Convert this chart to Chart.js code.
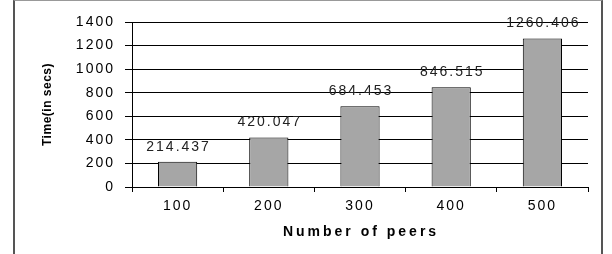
<!DOCTYPE html>
<html>
<head>
<meta charset="utf-8">
<script src="https://cdn.jsdelivr.net/npm/chart.js@4"></script>
<style>
  html, body { margin: 0; padding: 0; background: #fff; overflow: hidden; }
  #wrap { position: relative; width: 612px; height: 254px; }
  #frame { position: absolute; left: 13px; top: 0; width: 586px; height: 300px;
           border-left: 2px solid #555; border-right: 2px solid #555; border-top: 1px solid #999; }
  canvas { position: absolute; left: 0; top: 0; }
</style>
</head>
<body>
<div id="wrap">
  <div id="frame"></div>
  <canvas id="peerChart" width="612" height="254"></canvas>
</div>
<script>
// ── DATA ─────────────────────────────────────────────────────────────
const peers = ['100', '200', '300', '400', '500'];
const timeSecs = [214.437, 420.047, 684.453, 846.515, 1260.406];
const yTicks = [0, 200, 400, 600, 800, 1000, 1200, 1400];

const FONT = 'Liberation Sans, Arial, sans-serif';

// titles + value labels drawn with letter spacing like the old Excel output
const textPlugin = {
  id: 'textPlugin',
  beforeDraw(chart) {
    chart.ctx.letterSpacing = '2px';
  },
  afterDatasetsDraw(chart) {
    const ctx = chart.ctx;
    const bars = chart.getDatasetMeta(0).data;
    ctx.save();
    ctx.letterSpacing = '2px';
    ctx.font = '14px ' + FONT;
    ctx.fillStyle = '#222';
    ctx.textAlign = 'center';
    ctx.textBaseline = 'middle';
    bars.forEach((b, i) => ctx.fillText(timeSecs[i].toFixed(3), b.x + 1, b.y - 15));
    ctx.restore();
  },
  afterDraw(chart) {
    const ctx = chart.ctx, a = chart.chartArea;
    ctx.save();
    ctx.fillStyle = '#000';
    ctx.textAlign = 'center';
    ctx.textBaseline = 'middle';
    ctx.letterSpacing = '3px';
    ctx.font = 'bold 14px ' + FONT;
    ctx.fillText('Number of peers', (a.left + a.right) / 2 + 1, 232);
    ctx.letterSpacing = '0.5px';
    ctx.font = 'bold 12px ' + FONT;
    ctx.translate(48, (a.top + a.bottom) / 2);
    ctx.rotate(-Math.PI / 2);
    ctx.fillText('Time(in secs)', 0, 0);
    ctx.restore();
  }
};

new Chart(document.getElementById('peerChart'), {
  type: 'bar',
  data: {
    labels: peers,
    datasets: [{
      data: timeSecs,
      backgroundColor: '#a6a6a6',
      borderColor: '#000',
      borderWidth: 1,
      categoryPercentage: 1,
      barPercentage: 0.43
    }]
  },
  options: {
    responsive: false,
    animation: false,
    layout: { padding: { left: 0, top: 22, right: 24, bottom: 0 } },
    plugins: { legend: { display: false }, tooltip: { enabled: false } },
    scales: {
      x: {
        afterFit: s => { s.height = 67; },
        grid: { offset: true, drawOnChartArea: false, color: '#000', tickLength: 5 },
        border: { color: '#000' },
        ticks: { color: '#000', font: { family: FONT, size: 14 }, padding: 6, maxRotation: 0 }
      },
      y: {
        min: 0, max: 1400,
        afterFit: s => { s.width = 132; },
        afterBuildTicks: s => { s.ticks = yTicks.map(v => ({ value: v })); },
        grid: { color: '#000', tickLength: 7 },
        border: { color: '#000' },
        ticks: { color: '#000', font: { family: FONT, size: 14 }, padding: 10, callback: v => String(v) }
      }
    }
  },
  plugins: [textPlugin]
});
</script>
</body>
</html>
